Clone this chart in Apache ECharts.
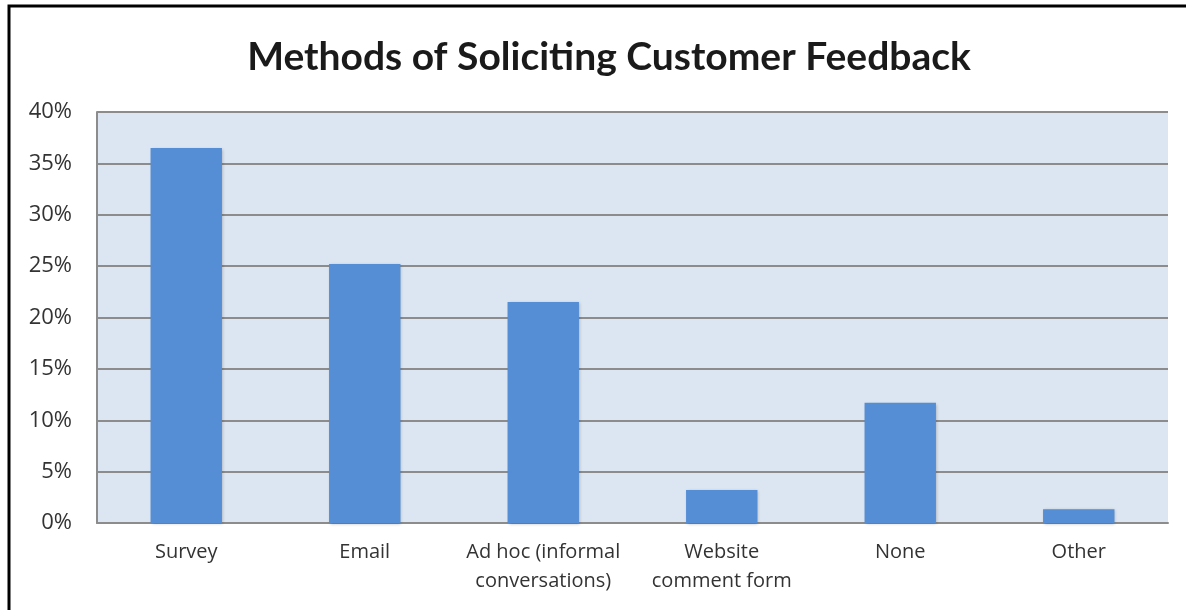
<!DOCTYPE html>
<html>
<head>
<meta charset="utf-8">
<script src="https://cdn.jsdelivr.net/npm/echarts@6/dist/echarts.min.js"></script>
<style>
  html, body { margin: 0; padding: 0; background: #fff; }
  #chart { width: 1186px; height: 610px; }
</style>
</head>
<body>
<div id="chart"></div>
<script>
// data
const categories = ["Survey", "Email", "Ad hoc (informal\nconversations)", "Website\ncomment form", "None", "Other"];
const shares = [36.5, 25.2, 21.5, 3.2, 11.7, 1.35];
const yTicks = [0, 5, 10, 15, 20, 25, 30, 35, 40];

let chart = echarts.init(document.getElementById("chart"));

let option = {
  backgroundColor: "#fff",
  animation: false,
  title: {
    text: "Methods of Soliciting Customer Feedback",
    left: 604,
    top: 33,
    textAlign: "center",
    textStyle: {
      fontFamily: "Lato",
      fontWeight: "bold",
      fontSize: 39,
      color: "#1a1a1a",
    },
  },
  graphic: [
    {
      type: "rect",
      shape: { x: 9, y: 6, width: 1300, height: 700 },
      style: { fill: "none", stroke: "#000", lineWidth: 3 },
      z: 10,
    },
  ],
  grid: {
    left: 97,
    right: 18,
    top: 112,
    bottom: 87,
    show: true,
    backgroundColor: "#dce6f2",
    borderWidth: 0,
  },
  xAxis: {
    type: "category",
    data: categories,
    axisLine: { show: true, lineStyle: { color: "#8c8c8c", width: 2 } },
    axisTick: { show: false },
    axisLabel: {
      interval: 0,
      color: "#333",
      fontFamily: "Open Sans",
      fontSize: 20,
      lineHeight: 29,
      margin: 15,
    },
  },
  yAxis: {
    type: "value",
    min: 0,
    max: 40,
    interval: 5,
    axisLine: { show: true, lineStyle: { color: "#8c8c8c", width: 2 } },
    axisTick: { show: false },
    axisLabel: {
      color: "#333",
      fontFamily: "Open Sans",
      fontSize: 22,
      margin: 25,
      formatter: (v) => (yTicks.includes(v) ? v + "%" : ""),
    },
    splitLine: { lineStyle: { color: "#8c8c8c", width: 2 } },
  },
  series: [
    {
      type: "bar",
      data: shares,
      barWidth: "40%",
      itemStyle: {
        color: "#558ed5",
        shadowColor: "rgba(0,0,0,0.25)",
        shadowBlur: 3,
        shadowOffsetX: 1,
        shadowOffsetY: 1,
      },
    },
  ],
};

chart.setOption(option);
</script>
</body>
</html>
